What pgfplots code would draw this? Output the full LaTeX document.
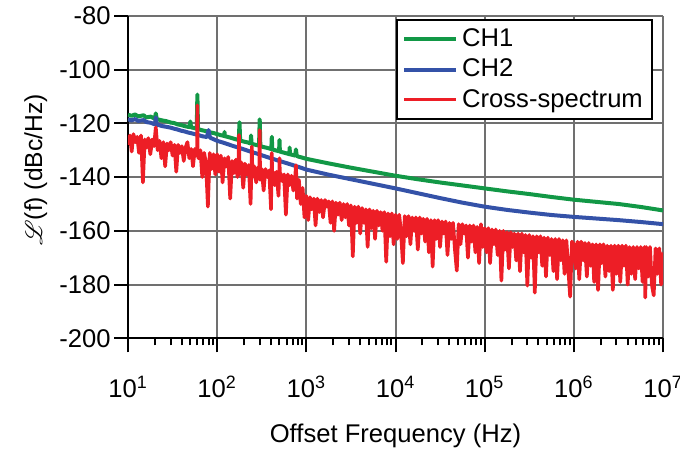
\documentclass[border=0pt]{standalone}
\usepackage{pgfplots}
\pgfplotsset{compat=1.18}
\usepackage{pgfplotstable}
\usepackage{fontspec}
\setmainfont{Liberation Sans}
\usepackage{mathrsfs}
\definecolor{chgreen}{RGB}{18,152,70}
\definecolor{chblue}{RGB}{52,82,168}
\definecolor{chred}{RGB}{237,30,38}
\definecolor{gridgray}{RGB}{112,112,112}
\begin{document}
\pgfplotstableread{
f v
10 -116.8
11 -117.2
12 -116.7
13 -117.4
15 -117.0
16 -117.8
18 -117.5
20 -118.3
20.5 -116.3
21 -118.4
22 -118.6
24 -118.9
27 -119.2
30 -119.7
33 -119.9
36 -120.4
39 -120.6
43 -121.0
47 -121.3
49 -121.4
50 -119.3
51 -121.5
56 -121.8
59 -122.0
60 -109.3
61 -122.1
62 -122.2
68 -122.6
75 -122.9
82 -123.3
91 -123.6
100 -124.0
110 -124.4
120 -124.7
121 -123.2
122 -124.8
130 -125.0
150 -125.6
160 -125.9
175 -126.2
178 -119.6
181 -126.4
200 -126.8
220 -127.1
237 -127.5
240 -124.5
243 -127.6
270 -128.0
295 -128.3
300 -118.5
305 -128.5
330 -128.8
360 -129.1
390 -129.4
405 -129.6
410 -125.0
415 -129.7
470 -130.2
495 -130.4
500 -126.2
505 -130.5
560 -130.9
620 -131.3
645 -131.5
650 -129.0
655 -131.5
750 -132.0
765 -129.7
780 -132.1
820 -132.4
910 -132.8
1000 -133.2
1778 -134.9
3162 -136.5
5623 -138.0
1e4 -139.5
17783 -140.8
31623 -142.0
56234 -143.1
1e5 -144.2
177828 -145.3
316228 -146.3
562341 -147.4
1e6 -148.4
1778279 -149.2
3162278 -150.0
5623413 -151.1
1e7 -152.4
}\chone
\pgfplotstableread{
f v
10 -118.5
11 -118.9
12 -118.4
13 -119.1
15 -118.8
16 -119.5
18 -119.8
20 -120.4
20.5 -117.8
21 -120.5
22 -120.6
24 -121.0
27 -121.3
30 -121.6
33 -122.0
36 -122.3
39 -122.7
43 -123.0
47 -123.4
50 -123.6
56 -124.0
62 -124.4
68 -124.8
77 -125.1
80 -122.5
83 -125.3
91 -125.9
100 -126.5
120 -127.3
150 -128.4
180 -129.2
200 -129.7
240 -130.6
270 -131.1
300 -131.6
360 -132.5
420 -133.2
500 -134.0
600 -134.8
700 -135.5
850 -136.4
1000 -137.2
1778 -139.1
3162 -140.8
5623 -142.5
1e4 -144.2
17783 -146.0
31623 -147.8
56234 -149.5
1e5 -151.0
177828 -152.2
316228 -153.2
562341 -154.1
1e6 -154.8
1778279 -155.4
3162278 -156.0
5623413 -156.7
1e7 -157.5
}\chtwo
\pgfplotstableread{
f v
1.00e1 -128
1.05e1 -124.5
1.10e1 -130.5
1.15e1 -124
1.21e1 -127
1.27e1 -125
1.33e1 -131
1.40e1 -124.5
1.47e1 -142
1.54e1 -126
1.62e1 -129
1.69e1 -125.5
1.78e1 -131.5
1.87e1 -126
1.96e1 -128.5
2.05e1 -121.5
2.15e1 -130
2.26e1 -126.5
2.37e1 -133
2.49e1 -127
2.61e1 -136
2.74e1 -127.5
2.87e1 -130
3.01e1 -127
3.16e1 -132
3.32e1 -128
3.48e1 -138
3.65e1 -128
3.83e1 -131
4.02e1 -128.5
4.22e1 -134
4.42e1 -129
4.64e1 -127
4.87e1 -133
5.11e1 -129.5
5.36e1 -136
5.62e1 -129.5
5.90e1 -132
5.95e1 -131
6.00e1 -113.3
6.05e1 -132
6.19e1 -133
6.49e1 -130
6.81e1 -140
7.15e1 -131
7.50e1 -135
7.87e1 -151
8.25e1 -131
8.66e1 -137
9.09e1 -131.5
9.53e1 -139
1.00e2 -131.5
1.05e2 -138
1.10e2 -132
1.15e2 -142
1.21e2 -133
1.27e2 -136
1.33e2 -132.5
1.40e2 -148
1.47e2 -134
1.54e2 -138.5
1.62e2 -133.5
1.69e2 -140
1.74e2 -134
1.76e2 -124.3
1.78e2 -139
1.87e2 -134.5
1.96e2 -144
2.05e2 -135
2.15e2 -139
2.26e2 -135.5
2.37e2 -150
2.43e2 -136
2.45e2 -128.6
2.49e2 -140
2.61e2 -136
2.74e2 -142
2.87e2 -136.5
2.97e2 -137
3.00e2 -122.5
3.03e2 -141
3.16e2 -137
3.32e2 -145
3.48e2 -137
3.65e2 -140
3.83e2 -137.5
4.02e2 -152
4.07e2 -137.5
4.10e2 -131
4.15e2 -142
4.22e2 -138
4.42e2 -143
4.64e2 -138
4.87e2 -147
4.97e2 -138.5
5.00e2 -133
5.05e2 -139
5.11e2 -138.5
5.36e2 -141.5
5.62e2 -139
5.90e2 -154
6.19e2 -139
6.49e2 -143
6.81e2 -139.5
7.15e2 -145
7.50e2 -140
7.65e2 -135.6
7.87e2 -148
8.25e2 -141
8.66e2 -150
9.09e2 -144
9.53e2 -155
1.00e3 -147
1.05e3 -156
1.10e3 -147.5
1.15e3 -152
1.21e3 -148
1.27e3 -158
1.33e3 -148
1.40e3 -153
1.47e3 -148.5
1.54e3 -155
1.62e3 -148.5
1.69e3 -151
1.78e3 -149
1.87e3 -157
1.96e3 -149
2.05e3 -160
2.15e3 -149.5
2.26e3 -154
2.37e3 -149.5
2.49e3 -156
2.61e3 -150
2.74e3 -155
2.87e3 -150
3.01e3 -158
3.16e3 -150.5
3.32e3 -169.5
3.48e3 -151
3.65e3 -157
3.83e3 -151
4.02e3 -161
4.22e3 -151.5
4.42e3 -157
4.64e3 -152
4.87e3 -166
5.11e3 -152
5.36e3 -159
5.62e3 -152.5
5.90e3 -163
6.19e3 -152.5
6.49e3 -158
6.81e3 -153
7.15e3 -160
7.50e3 -153
7.87e3 -171.5
8.25e3 -153.5
8.66e3 -162
9.09e3 -153.5
9.53e3 -165
1.00e4 -154
1.05e4 -163
1.10e4 -154
1.15e4 -160
1.21e4 -172
1.27e4 -154.5
1.33e4 -162
1.40e4 -154.5
1.47e4 -165
1.54e4 -155
1.62e4 -160
1.69e4 -155
1.78e4 -167
1.87e4 -155
1.96e4 -161
2.05e4 -155.5
2.15e4 -164
2.26e4 -155.5
2.37e4 -168
2.49e4 -156
2.61e4 -173.3
2.74e4 -156
2.87e4 -163
3.01e4 -156
3.16e4 -166
3.32e4 -156.5
3.48e4 -161
3.65e4 -156.5
3.83e4 -169
4.02e4 -157
4.22e4 -163
4.42e4 -157
4.64e4 -167
4.87e4 -174.8
5.11e4 -157.5
5.36e4 -165
5.62e4 -157.5
5.90e4 -161
6.19e4 -158
6.49e4 -170
6.81e4 -158
7.15e4 -164
7.50e4 -158
7.87e4 -168
8.25e4 -158.5
8.66e4 -172
9.09e4 -157.5
9.53e4 -166
1.00e5 -159
1.05e5 -168
1.10e5 -159
1.15e5 -172
1.21e5 -159.5
1.27e5 -165
1.33e5 -159.5
1.40e5 -169
1.47e5 -160
1.54e5 -178.5
1.62e5 -160
1.69e5 -167
1.78e5 -160.5
1.87e5 -174
1.96e5 -160.5
2.05e5 -166
2.15e5 -161
2.26e5 -171
2.37e5 -161
2.49e5 -175
2.61e5 -161
2.74e5 -168
2.87e5 -161.5
3.01e5 -180.4
3.16e5 -161.5
3.32e5 -170
3.48e5 -162
3.65e5 -183
3.83e5 -162
4.02e5 -168
4.22e5 -162
4.42e5 -173
4.64e5 -162.5
4.87e5 -177
5.11e5 -162.5
5.36e5 -169
5.62e5 -163
5.90e5 -175
6.19e5 -163
6.49e5 -178
6.81e5 -163
7.15e5 -171
7.50e5 -163.5
7.87e5 -176
8.25e5 -163.5
8.66e5 -174
9.09e5 -184.5
9.53e5 -164
1.00e6 -165
1.05e6 -174
1.10e6 -164
1.15e6 -178
1.21e6 -164
1.27e6 -171
1.33e6 -164.5
1.40e6 -177
1.47e6 -164.5
1.54e6 -173
1.62e6 -165
1.69e6 -179
1.78e6 -165
1.87e6 -182
1.96e6 -165
2.05e6 -172
2.15e6 -165
2.26e6 -177
2.37e6 -165.5
2.49e6 -175
2.61e6 -165.5
2.74e6 -182
2.87e6 -165.5
3.01e6 -176
3.16e6 -165.5
3.32e6 -179
3.48e6 -165.5
3.65e6 -173
3.83e6 -165.5
4.02e6 -180
4.22e6 -166
4.42e6 -176
4.64e6 -166
4.87e6 -178
5.11e6 -166
5.36e6 -174
5.62e6 -166
5.90e6 -179
6.19e6 -166
6.33e6 -184.8
6.49e6 -166
6.81e6 -177
7.15e6 -166
7.50e6 -180
7.87e6 -184
8.25e6 -166.5
8.66e6 -176
9.09e6 -166.5
9.53e6 -180
1.00e7 -168
}\cross
\begin{tikzpicture}
\begin{axis}[
  scale only axis,
  width=267.5pt, height=161.3pt,
  xmode=log, xmin=10, xmax=1e7,
  ymin=-200, ymax=-80,
  xtick={10,100,1000,10000,100000,1000000,10000000},
  xticklabels={10\textsuperscript{1},10\textsuperscript{2},10\textsuperscript{3},10\textsuperscript{4},10\textsuperscript{5},10\textsuperscript{6},10\textsuperscript{7}},
  minor xtick={20,30,40,50,60,70,80,90,200,300,400,500,600,700,800,900,2000,3000,4000,5000,6000,7000,8000,9000,20000,30000,40000,50000,60000,70000,80000,90000,200000,300000,400000,500000,600000,700000,800000,900000,2000000,3000000,4000000,5000000,6000000,7000000,8000000,9000000},
  ytick={-200,-180,-160,-140,-120,-100,-80},
  yticklabels={-200,-180,-160,-140,-120,-100,-80},
  axis x line*=bottom, axis y line*=left,
  axis line style={-, black, line width=1pt},
  tick align=outside,
  major tick length=7pt, minor tick length=3.5pt,
  every tick/.style={black, line width=1pt},
  grid=major,
  major grid style={gridgray, line width=1pt},
  ticklabel style={font=\fontsize{12.8}{15}\selectfont},
  xticklabel style={anchor=base, yshift=-22.5pt},
  yticklabel style={inner xsep=1.5pt},
  xlabel={Offset Frequency (Hz)},
  xlabel style={font=\fontsize{12.8}{15}\selectfont, at={(axis description cs:0.5,0)}, anchor=base, yshift=-52pt},
  ylabel={$\mathscr{L}$(f) (dBc/Hz)},
  ylabel style={font=\fontsize{12.3}{15}\selectfont, at={(axis description cs:-0.1607,0.522)}, anchor=base},
  legend style={at={(rel axis cs:0.981,0.99)}, anchor=north east,
    draw=black, line width=1pt, fill=white,
    font=\fontsize{12.8}{14}\selectfont, legend cell align=left,
    inner xsep=2.5pt, inner ysep=2.5pt, row sep=0.6pt},
  legend image code/.code={\draw[#1] (0pt,0pt) -- (26pt,0pt);},
]
\coordinate (bl) at (rel axis cs:0,0);
\coordinate (tr) at (rel axis cs:1,1);
\addplot[chgreen, line width=2pt, line join=round] table[x=f, y=v] {\chone};
\addlegendentry{CH1}
\addplot[chblue, line width=2pt, line join=round] table[x=f, y=v] {\chtwo};
\addlegendentry{CH2}
\addplot[chred, line width=1.8pt, line join=round] table[x=f, y=v] {\cross};
\addlegendentry{Cross-spectrum}
\end{axis}
\pgfresetboundingbox
\path[use as bounding box] ([xshift=-64pt,yshift=-56.2pt]bl) rectangle ([xshift=8.5pt,yshift=7.9pt]tr);
\end{tikzpicture}
\end{document}
